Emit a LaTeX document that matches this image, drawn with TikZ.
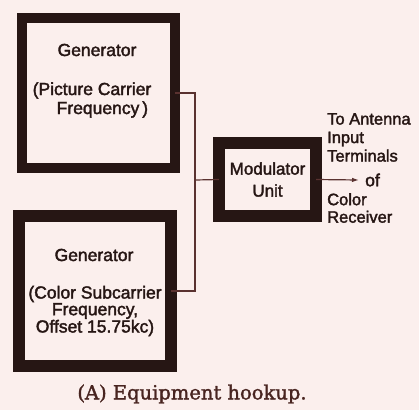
\documentclass[tikz,border=0pt]{standalone}
\usepackage{fontspec}
\setmainfont{Liberation Sans}[FakeBold=2,AutoFakeBold=2]
\newfontfamily\capfont{DejaVu Serif}[FakeBold=1.5]
\usetikzlibrary{arrows.meta}
\definecolor{bg}{RGB}{251,239,237}
\definecolor{ink}{RGB}{38,22,20}
\definecolor{capink}{RGB}{72,36,32}
\definecolor{wire}{RGB}{90,50,48}
\begin{document}
\begin{tikzpicture}[x=1pt,y=-1pt,
  heavybox/.style={draw=ink,fill=bg,inner sep=0pt,outer sep=0pt},
  lbl/.style={text=ink,font=\bfseries\fontsize{17.5}{19}\selectfont,inner sep=0pt},
  wireline/.style={draw=wire,line width=1.2pt}]
\fill[bg] (0,0) rectangle (419,410);
\useasboundingbox (0,0) rectangle (419,410);
% boxes
\node[heavybox,line width=10pt,minimum width=153pt,minimum height=150pt] (top) at (98.5,93) {};
\node[heavybox,line width=12pt,minimum width=152pt,minimum height=150pt] (bot) at (95,291) {};
\node[heavybox,line width=12pt,minimum width=97pt,minimum height=73pt,
  align=center,text=ink,font=\bfseries\fontsize{17}{22}\selectfont] (mod) at (267.5,179.5) {Modulator\\Unit};
% texts in generators
\node[lbl] (t1) at (97,50) {Generator};
\node[lbl,align=left] (t2) at (92,100) {(Picture Carrier\\\hspace*{24pt}Frequency\,)};
\node[lbl] (b1) at (94,255) {Generator};
\node[lbl,align=center,font=\bfseries\fontsize{17.5}{15.5}\selectfont] (b2) at (95,311) {(Color Subcarrier\\Frequency,\\Offset 15.75kc)};
% junction
\coordinate (j) at (195,180);
\draw[wireline] (top.east) -| (j);
\draw[wireline] (bot.east) -| (j);
\draw[wireline] (j) -- (mod.west);
\coordinate (tip) at (359,180);
\draw[wireline,-{Latex[length=7pt,width=4.5pt]}] (mod.east) -- (tip);
% right texts
\node[lbl,anchor=north west,align=left,font=\bfseries\fontsize{16.5}{18.5}\selectfont] (r1) at (327,113) {To Antenna\\Input\\Terminals};
\node[lbl,anchor=west] (r2) at (365,180) {of};
\node[lbl,anchor=north west,align=left,font=\bfseries\fontsize{16.5}{17.5}\selectfont] (r3) at (327,193) {Color\\Receiver};
% caption
\node[text=capink,font=\capfont\fontsize{19.5}{22}\selectfont,inner sep=0pt] (cap) at (192,394) {(A) Equipment hookup.};
\end{tikzpicture}
\end{document}
